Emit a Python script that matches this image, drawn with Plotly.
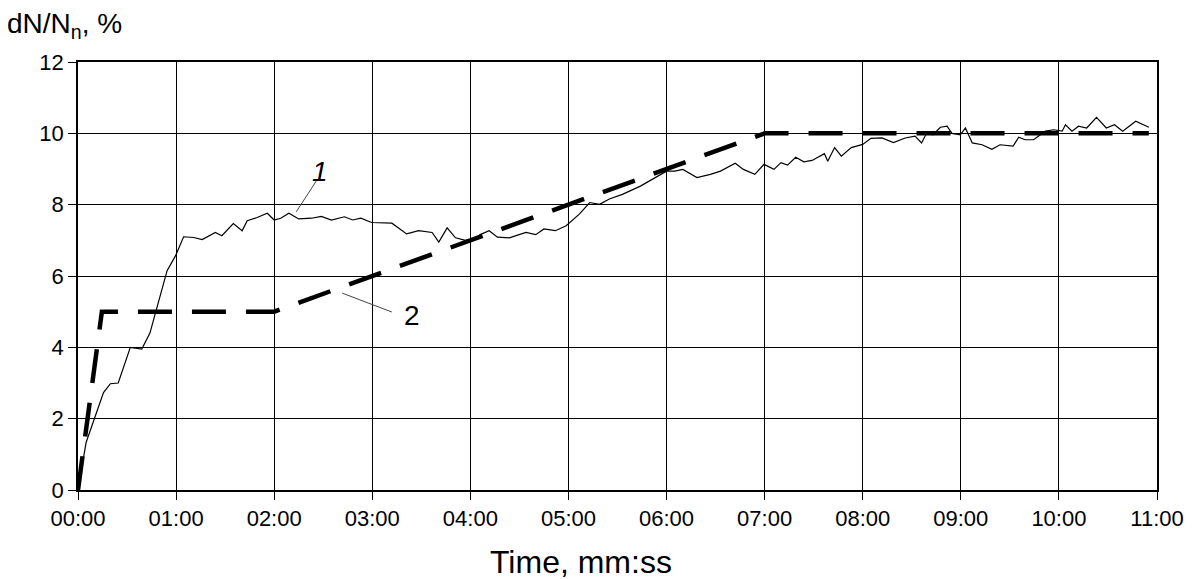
import plotly.graph_objects as go

# Curve 1 (measured), time in seconds
t1 = [0, 5, 15.6, 19.8, 24.6, 32, 39, 44, 54.5, 59.7, 64.6, 70.8, 76, 84, 88, 95, 100.4, 103.5,
      109.6, 115.8, 120, 124, 129, 135, 142.8, 148.9, 155, 163, 168, 173, 179.6, 192, 201, 208.4,
      216.6, 220.7, 225.8, 230.9, 237, 243, 246, 251.5, 256.6, 263.8, 274, 280, 285, 292, 298.6,
      306.8, 313, 319, 325, 333, 344, 360, 365, 370, 378.6, 386.8, 393, 402, 407, 414, 419.6,
      425.7, 430, 434, 439, 444, 449, 456.6, 458.6, 462.8, 466.9, 473, 480, 485, 491.7, 498.8,
      506, 512, 516, 519, 523, 527.5, 531.6, 534.6, 539.7, 542.8, 547, 553, 559, 564, 572, 575.4,
      579.4, 584.5, 591.7, 596.8, 602, 604, 608, 612, 617, 623, 629, 634, 639, 647, 655]
v1 = [0, 1.34, 2.73, 2.98, 3.0, 4.0, 3.95, 4.4, 6.15, 6.57, 7.1, 7.08, 7.02, 7.22, 7.13, 7.47, 7.27, 7.55,
      7.64, 7.76, 7.57, 7.62, 7.76, 7.6, 7.62, 7.67, 7.57, 7.66, 7.57, 7.62, 7.5, 7.48, 7.18, 7.27,
      7.22, 6.95, 7.35, 7.07, 7.0, 7.04, 7.16, 7.27, 7.09, 7.07, 7.22, 7.16, 7.32, 7.27, 7.41,
      7.74, 8.06, 8.01, 8.16, 8.29, 8.52, 8.94, 8.94, 8.99, 8.76, 8.85, 8.94, 9.16, 8.99, 8.85, 9.13,
      8.99, 9.18, 9.11, 9.33, 9.2, 9.24, 9.43, 9.22, 9.6, 9.36, 9.6, 9.69, 9.86, 9.87, 9.74,
      9.87, 9.92, 9.73, 10.0, 9.96, 10.17, 10.2, 10.0, 9.96, 10.15, 9.73, 9.68, 9.55, 9.68, 9.64, 9.89,
      9.82, 9.82, 10.06, 10.1, 10.06, 10.24, 10.06, 10.2, 10.15, 10.45, 10.15, 10.24, 10.06, 10.34, 10.17]

# Curve 2 (set-point, dashed)
t2 = [0, 14.6, 120, 420, 655]
v2 = [0, 5, 5, 10, 10]

tick_vals = [0, 60, 120, 180, 240, 300, 360, 420, 480, 540, 600, 660]
tick_text = ["00:00", "01:00", "02:00", "03:00", "04:00", "05:00", "06:00",
             "07:00", "08:00", "09:00", "10:00", "11:00"]
y_ticks = [0, 2, 4, 6, 8, 10, 12]

fig = go.Figure()
fig.add_trace(go.Scatter(x=t1, y=v1, mode="lines", line=dict(color="black", width=1.2),
                         showlegend=False, hoverinfo="skip"))
fig.add_trace(go.Scatter(x=t2, y=v2, mode="lines",
                         line=dict(color="black", width=4.5, dash="34px,20px"),
                         showlegend=False, hoverinfo="skip"))

font = "Liberation Sans, Arial, sans-serif"

# leader lines
fig.add_shape(type="line", x0=133.5, y0=7.8, x1=145.7, y1=8.66, line=dict(color="#444", width=1))
fig.add_shape(type="line", x0=161.6, y0=5.52, x1=192, y1=4.99, line=dict(color="#444", width=1))
fig.add_annotation(x=148, y=8.92, text="<i>1</i>", showarrow=False,
                   font=dict(family=font, size=28, color="black"))
fig.add_annotation(x=204, y=4.88, text="2", showarrow=False,
                   font=dict(family=font, size=28, color="black"))

# axis titles
fig.add_annotation(xref="paper", yref="paper", x=-0.0677, y=1.085, xanchor="left", yanchor="middle",
                   text="dN/N<sub>n</sub>, %", showarrow=False,
                   font=dict(family=font, size=28, color="black"))
fig.add_annotation(xref="paper", yref="paper", x=0.466, y=-0.168, xanchor="center", yanchor="middle",
                   text="Time, mm:ss", showarrow=False,
                   font=dict(family=font, size=32, color="black"))

fig.update_layout(
    width=1180, height=571,
    margin=dict(l=70, r=31, t=54, b=89),
    plot_bgcolor="white", paper_bgcolor="white",
    font=dict(family=font, size=22, color="black"),
    xaxis=dict(range=[0, 660], tickvals=tick_vals, ticktext=tick_text, automargin=False,
               showgrid=True, gridcolor="black", gridwidth=1.3,
               showline=True, linecolor="black", linewidth=1.5, mirror=True,
               ticks="outside", ticklen=8, tickcolor="black", zeroline=False),
    yaxis=dict(range=[0, 12], tickvals=y_ticks, automargin=False,
               showgrid=True, gridcolor="black", gridwidth=1.3,
               showline=True, linecolor="black", linewidth=1.5, mirror=True,
               ticks="outside", ticklen=8, tickcolor="black", zeroline=False),
)

fig.write_html("out.html")
